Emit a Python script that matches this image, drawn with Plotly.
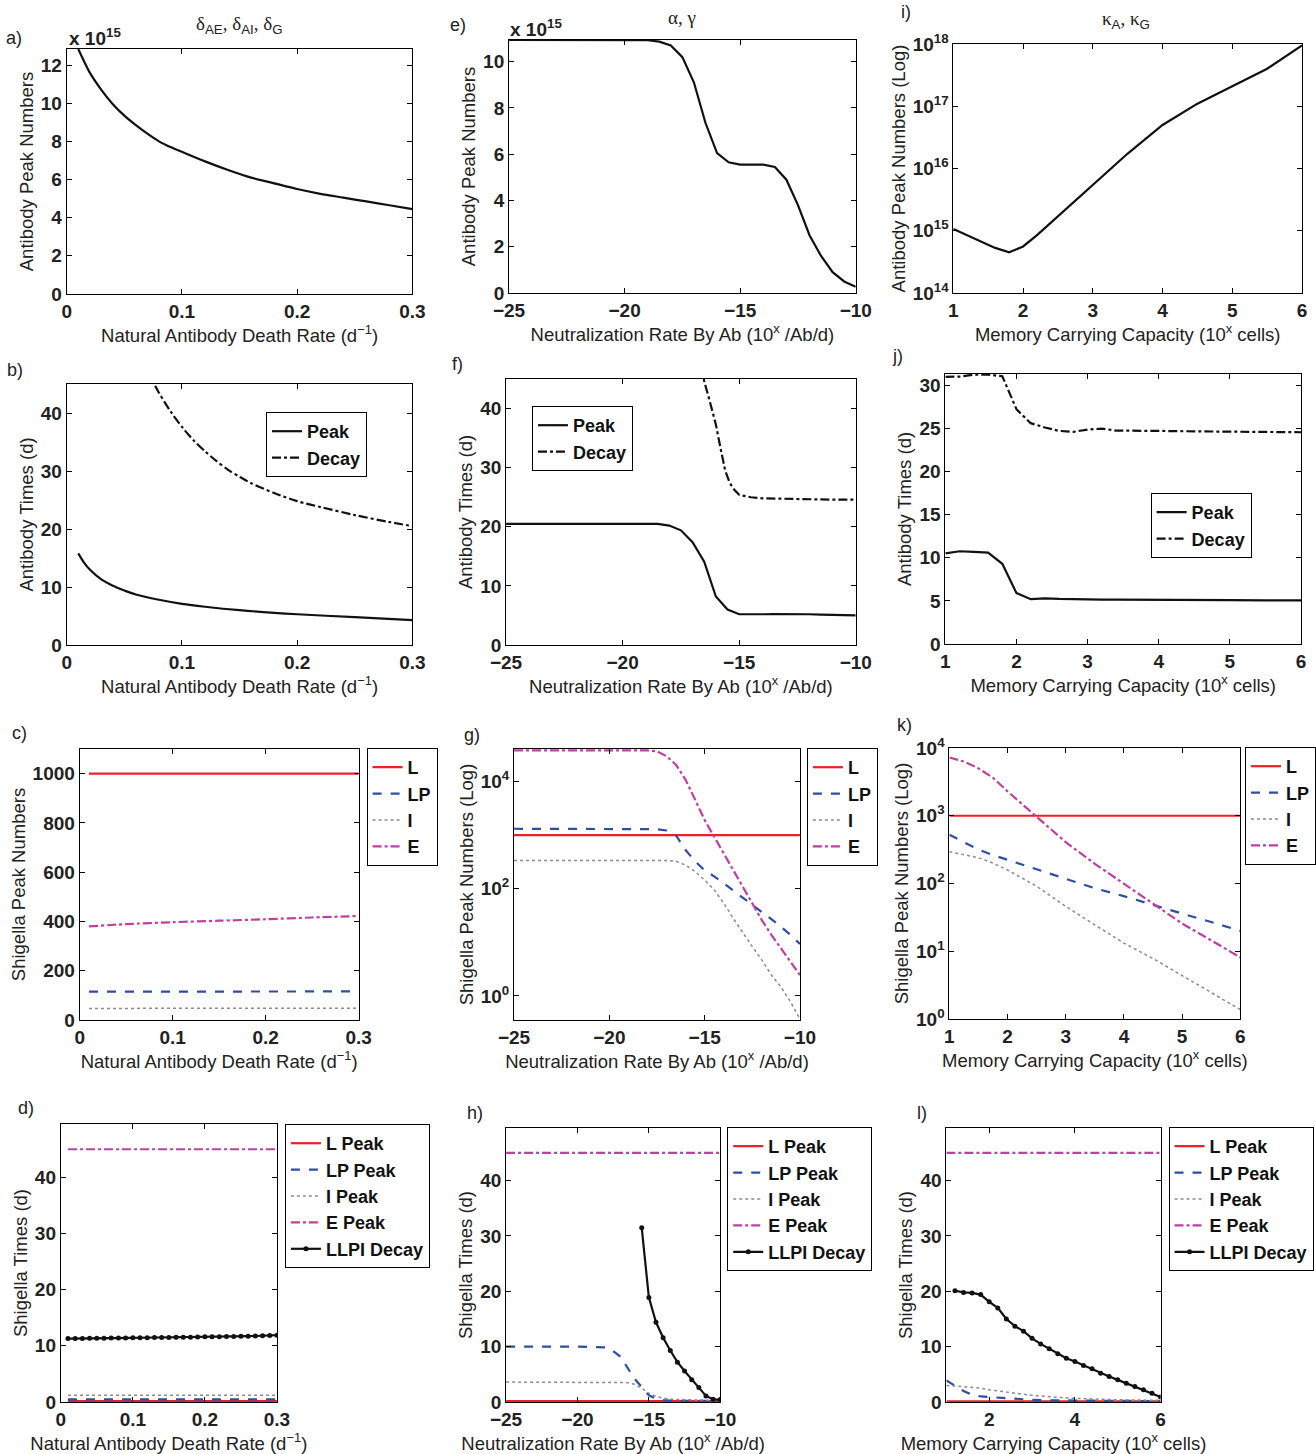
import plotly.graph_objects as go

W, H = 1316, 1454
FONT = "Liberation Sans, Arial, Helvetica, sans-serif"
SERIF = "Liberation Serif, Times New Roman, serif"
RED, BLUE, GRAY, MAG, BLACK = "#ee1f26", "#2c4ea8", "#8c8c8c", "#c13fa2", "#111111"

# ---------------- data ----------------
# Column 1: natural antibody death rate (d^-1)
a_x = [0.01, 0.015, 0.02, 0.03, 0.04, 0.05, 0.06, 0.07, 0.08, 0.09, 0.10, 0.12, 0.14, 0.16, 0.18, 0.20, 0.22, 0.24, 0.26, 0.28, 0.30]
a_peak = [12.84, 12.2, 11.6, 10.7, 9.95, 9.35, 8.85, 8.4, 8.0, 7.7, 7.45, 6.95, 6.5, 6.1, 5.8, 5.5, 5.25, 5.05, 4.85, 4.65, 4.45]

b_x = [0.01, 0.015, 0.02, 0.03, 0.04, 0.05, 0.06, 0.08, 0.10, 0.12, 0.15, 0.20, 0.25, 0.30]
b_peak = [15.8, 14.2, 13.0, 11.3, 10.2, 9.4, 8.7, 7.8, 7.1, 6.6, 6.0, 5.3, 4.8, 4.3]
b_decay_x = [0.07, 0.076, 0.08, 0.09, 0.10, 0.11, 0.12, 0.13, 0.14, 0.15, 0.16, 0.18, 0.20, 0.22, 0.25, 0.28, 0.30]
b_decay = [47.5, 45.0, 43.5, 40.3, 37.6, 35.3, 33.4, 31.7, 30.2, 29.0, 27.9, 26.2, 24.8, 23.8, 22.4, 21.2, 20.5]

c_x = [0.01, 0.05, 0.10, 0.15, 0.20, 0.25, 0.30]
c_L = [1000, 1000, 1000, 1000, 1000, 1000, 1000]
c_LP = [115, 115, 115, 116, 116, 116, 116]
c_I = [47, 47, 47, 47, 47, 48, 48]
c_E = [380, 389, 397, 403, 409, 416, 422]

d_x = [0.01, 0.02, 0.03, 0.04, 0.05, 0.06, 0.07, 0.08, 0.09, 0.10, 0.11, 0.12, 0.13, 0.14, 0.15,
       0.16, 0.17, 0.18, 0.19, 0.20, 0.21, 0.22, 0.23, 0.24, 0.25, 0.26, 0.27, 0.28, 0.29, 0.30]
d_L = [0.15] * 30
d_LP = [0.45] * 30
d_I = [1.2] * 30
d_E = [45] * 30
d_decay = [11.30, 11.30, 11.32, 11.34, 11.35, 11.36, 11.38, 11.40, 11.40, 11.42, 11.44, 11.45, 11.47, 11.48, 11.50,
           11.52, 11.53, 11.55, 11.57, 11.60, 11.62, 11.64, 11.66, 11.68, 11.70, 11.72, 11.75, 11.80, 11.85, 11.90]

# Column 2: neutralization rate by Ab (10^x /Ab/d)
ef_x = [-25, -24, -23, -22, -21, -20, -19, -18.5, -18, -17.5, -17, -16.5, -16, -15.5, -15, -14.5, -14,
        -13.5, -13, -12.5, -12, -11.5, -11, -10.5, -10]
e_peak = [10.94, 10.94, 10.94, 10.94, 10.94, 10.94, 10.93, 10.87, 10.7, 10.2, 9.1, 7.35, 6.05, 5.65, 5.55,
          5.55, 5.55, 5.45, 4.9, 3.8, 2.5, 1.6, 0.9, 0.5, 0.27]
f_peak = [20.5, 20.5, 20.5, 20.5, 20.5, 20.5, 20.5, 20.5, 20.2, 19.4, 17.4, 14.1, 8.2, 6.0, 5.2, 5.15,
          5.2, 5.22, 5.25, 5.22, 5.2, 5.15, 5.1, 5.05, 5.0]
f_decay_x = [-16.6, -16.5, -16.3, -16.0, -15.8, -15.6, -15.4, -15.2, -15.0, -14.5, -14.0, -13.0, -12.0, -11.0, -10.0]
f_decay = [47.0, 44.6, 41.8, 37.3, 33.3, 29.5, 27.4, 26.2, 25.4, 25.0, 24.8, 24.7, 24.65, 24.6, 24.6]

gh_x = [-25, -22, -20, -18, -17.5, -17, -16.5, -16, -15.5, -15, -14.5, -14, -13.5, -13, -12.5, -12,
        -11.5, -11, -10.5, -10]
g_L = [1000] * 20
g_LP = [1309, 1309, 1309, 1303, 1288, 1216, 980, 525, 324, 219, 170, 126, 93, 66, 50, 37, 27, 19.5, 13.8, 9.3]
g_I = [336, 336, 336, 336, 336, 336, 324, 275, 209, 145, 95, 54, 28, 14.8, 8.3, 4.7, 2.45, 1.48, 0.78, 0.37]
g_E = [38000, 38000, 38000, 38000, 36300, 29500, 20400, 10700, 4570, 1900, 930, 457, 224, 110, 54, 26, 13.8, 7.8, 4.4, 2.45]

h_L = [0.15] * 20
h_LP = [10, 10, 10, 9.85, 9.2, 8.2, 6.3, 4.2, 2.7, 1.2, 0.6, 0.35, 0.25, 0.2, 0.2, 0.2, 0.2, 0.2, 0.2, 0.2]
h_I = [3.6, 3.6, 3.6, 3.6, 3.6, 3.6, 3.5, 3.2, 2.5, 1.6, 1.0, 0.7, 0.5, 0.45, 0.4, 0.38, 0.35, 0.33, 0.3, 0.3]
h_E = [45] * 20
h_decay_x = [-15.5, -15, -14.5, -14, -13.5, -13, -12.5, -12, -11.5, -11, -10.5, -10]
h_decay = [31.5, 18.9, 14.4, 11.6, 9.3, 7.2, 5.6, 4.0, 2.6, 1.1, 0.5, 0.45]

# Column 3: memory carrying capacity (10^x cells)
i_x = [1, 1.2, 1.4, 1.6, 1.8, 2.0, 2.2, 2.5, 3.0, 3.5, 4.0, 4.5, 5.0, 5.5, 6.0]
i_peak = [1.07e15, 8.5e14, 6.8e14, 5.3e14, 4.5e14, 5.6e14, 8.5e14, 1.7e15, 5.6e15, 1.74e16, 5.0e16,
          1.1e17, 2.1e17, 4.0e17, 9.5e17]

j_x = [1, 1.2, 1.4, 1.6, 1.8, 2.0, 2.2, 2.4, 2.6, 2.8, 3.0, 3.2, 3.4, 3.6, 4.0, 4.5, 5.0, 5.5, 6.0]
j_peak = [10.5, 10.75, 10.67, 10.6, 9.3, 5.9, 5.2, 5.3, 5.22, 5.18, 5.15, 5.15, 5.15, 5.15, 5.12, 5.1, 5.08, 5.06, 5.05]
j_decay = [30.96, 31.0, 31.23, 31.23, 31.04, 27.2, 25.6, 25.1, 24.7, 24.6, 24.85, 24.97, 24.74, 24.7, 24.7,
           24.65, 24.6, 24.58, 24.55]

k_x = [1, 1.25, 1.5, 1.75, 2, 2.5, 3, 3.5, 4, 4.5, 5, 5.5, 6]
k_L = [1000] * 13
k_LP = [525, 407, 316, 263, 224, 162, 115, 85, 65, 49, 36, 27, 20]
k_I = [295, 269, 240, 200, 158, 91, 46, 24.5, 13.2, 7.8, 4.4, 2.5, 1.38]
k_E = [7240, 6310, 5010, 3630, 2290, 977, 407, 195, 100, 50, 25.7, 14.5, 8.1]

l_x = [1, 1.2, 1.4, 1.6, 1.8, 2, 2.5, 3, 3.5, 4, 5, 6]
l_L = [0.1] * 12
l_LP = [3.9, 3.0, 2.0, 1.3, 1.0, 0.9, 0.6, 0.4, 0.3, 0.25, 0.2, 0.15]
l_I = [3.0, 2.9, 2.8, 2.7, 2.5, 2.2, 1.7, 1.2, 0.9, 0.66, 0.4, 0.3]
l_E = [45] * 12
l_decay_x = [1.2, 1.4, 1.6, 1.8, 2.0, 2.2, 2.4, 2.6, 2.8, 3.0, 3.2, 3.4, 3.6, 3.8, 4.0, 4.2, 4.4, 4.6, 4.8,
             5.0, 5.2, 5.4, 5.6, 5.8, 6.0]
l_decay = [20.1, 19.8, 19.7, 19.4, 18.1, 17.0, 15.0, 13.7, 12.8, 11.5, 10.5, 9.6, 8.7, 7.9, 7.3, 6.6, 6.0,
           5.2, 4.6, 4.0, 3.4, 2.8, 2.2, 1.6, 0.9]

# ---------------- layout helpers ----------------
fig = go.Figure()
layout = {}

AX_FONT = dict(family=FONT, size=18.5, color="#222")
TICK_FONT = dict(family=FONT, size=19, color="#222", weight="bold")


def px_x(x):
    return x / W


def px_y(y):
    return 1 - y / H


def add_axes(n, box, xr, yr, xt, yt, xtitle, ytitle, ylog=False, ytext=None):
    l, t, r, b = box
    xs = "" if n == 1 else str(n)
    common = dict(showline=True, linecolor="black", linewidth=1, mirror="allticks", ticks="inside",
                  ticklen=5, tickcolor="black", showgrid=False, zeroline=False, tickfont=TICK_FONT,
                  automargin=False)
    layout["xaxis" + xs] = dict(domain=[px_x(l), px_x(r)], anchor="y" + xs, range=xr, tickvals=xt,
                                title=dict(text=xtitle, font=AX_FONT, standoff=2), **common)
    ya = dict(domain=[px_y(b), px_y(t)], anchor="x" + xs, range=yr, tickvals=yt,
              title=dict(text=ytitle, font=AX_FONT, standoff=2), **common)
    if ylog:
        ya["type"] = "log"
    if ytext is not None:
        ya["ticktext"] = ytext
    layout["yaxis" + xs] = ya
    return "x" + xs, "y" + xs


def line(ax, x, y, name, color, dash="solid", width=2.2, legend=None, markers=False, smooth=False):
    fig.add_trace(go.Scatter(
        x=x, y=y, xaxis=ax[0], yaxis=ax[1], name=name,
        mode="lines+markers" if markers else "lines",
        line=dict(color=color, width=width, dash=dash, shape="spline" if smooth else "linear",
                  smoothing=0.8 if smooth else None),
        marker=dict(size=5, color=color),
        showlegend=legend is not None, legend=legend or "legend"))


XT_A = "Natural Antibody Death Rate (d<sup>−1</sup>)"
XT_N = "Neutralization Rate By Ab (10<sup>x</sup> /Ab/d)"
XT_M = "Memory Carrying Capacity (10<sup>x</sup> cells)"
pow10 = lambda e: "10<sup>%d</sup>" % e

# a
ax = add_axes(1, (67, 49, 414, 294), [0, 0.3], [0, 12.84], [0, 0.1, 0.2, 0.3], [0, 2, 4, 6, 8, 10, 12],
              XT_A, "Antibody Peak Numbers")
line(ax, a_x, a_peak, "Peak", BLACK, smooth=True)
# b
ax = add_axes(2, (67, 384, 414, 645), [0, 0.3], [0, 45], [0, 0.1, 0.2, 0.3], [0, 10, 20, 30, 40],
              XT_A, "Antibody Times (d)")
line(ax, b_x, b_peak, "Peak", BLACK, legend="legend", smooth=True)
line(ax, b_decay_x, b_decay, "Decay", BLACK, "dashdot", legend="legend", smooth=True)
# c
ax = add_axes(3, (80, 749, 360, 1020), [0, 0.3], [0, 1100], [0, 0.1, 0.2, 0.3], [0, 200, 400, 600, 800, 1000],
              XT_A, "Shigella Peak Numbers")
line(ax, c_x, c_L, "L", RED, legend="legend2")
line(ax, c_x, c_LP, "LP", BLUE, "dash", legend="legend2")
line(ax, c_x, c_I, "I", GRAY, "dot", 1.5, legend="legend2")
line(ax, c_x, c_E, "E", MAG, "dashdot", legend="legend2", smooth=True)
# d
ax = add_axes(4, (61, 1124, 278, 1402), [0, 0.3], [0, 49.5], [0, 0.1, 0.2, 0.3], [0, 10, 20, 30, 40],
              XT_A, "Shigella Times (d)")
line(ax, d_x, d_L, "L Peak", RED, legend="legend3")
line(ax, d_x, d_LP, "LP Peak", BLUE, "dash", legend="legend3")
line(ax, d_x, d_I, "I Peak", GRAY, "dot", 1.5, legend="legend3")
line(ax, d_x, d_E, "E Peak", MAG, "dashdot", legend="legend3")
line(ax, d_x, d_decay, "LLPI Decay", BLACK, legend="legend3", markers=True)
# e
ax = add_axes(5, (511, 40, 859, 293), [-25, -10], [0, 10.94], [-25, -20, -15, -10], [0, 2, 4, 6, 8, 10],
              XT_N, "Antibody Peak Numbers")
line(ax, ef_x, e_peak, "Peak", BLACK)
# f
ax = add_axes(6, (508, 379, 859, 645), [-25, -10], [0, 45], [-25, -20, -15, -10], [0, 10, 20, 30, 40],
              XT_N, "Antibody Times (d)")
line(ax, ef_x, f_peak, "Peak", BLACK, legend="legend4")
line(ax, f_decay_x, f_decay, "Decay", BLACK, "dashdot", legend="legend4")
# g
ax = add_axes(7, (516, 749, 803, 1020), [-25, -10], [-0.448, 4.604], [-25, -20, -15, -10], [1, 100, 10000],
              XT_N, "Shigella Peak Numbers (Log)", ylog=True, ytext=[pow10(0), pow10(2), pow10(4)])
line(ax, gh_x, g_L, "L", RED, legend="legend5")
line(ax, gh_x, g_LP, "LP", BLUE, "dash", legend="legend5")
line(ax, gh_x, g_I, "I", GRAY, "dot", 1.5, legend="legend5")
line(ax, gh_x, g_E, "E", MAG, "dashdot", legend="legend5")
# h
ax = add_axes(8, (508, 1128, 723, 1402), [-25, -10], [0, 49.5], [-25, -20, -15, -10], [0, 10, 20, 30, 40],
              XT_N, "Shigella Times (d)")
line(ax, gh_x, h_L, "L Peak", RED, legend="legend6")
line(ax, gh_x, h_LP, "LP Peak", BLUE, "dash", legend="legend6")
line(ax, gh_x, h_I, "I Peak", GRAY, "dot", 1.5, legend="legend6")
line(ax, gh_x, h_E, "E Peak", MAG, "dashdot", legend="legend6")
line(ax, h_decay_x, h_decay, "LLPI Decay", BLACK, legend="legend6", markers=True)
# i
ax = add_axes(9, (957, 44, 1307, 293), [1, 6], [14, 18], [1, 2, 3, 4, 5, 6], [1e14, 1e15, 1e16, 1e17, 1e18],
              XT_M, "Antibody Peak Numbers (Log)", ylog=True, ytext=[pow10(e) for e in range(14, 19)])
line(ax, i_x, i_peak, "Peak", BLACK)
# j
ax = add_axes(10, (949, 374, 1306, 644), [1, 6], [0, 31.3], [1, 2, 3, 4, 5, 6], [0, 5, 10, 15, 20, 25, 30],
              XT_M, "Antibody Times (d)")
line(ax, j_x, j_peak, "Peak", BLACK, legend="legend7")
line(ax, j_x, j_decay, "Decay", BLACK, "dashdot", legend="legend7")
# k
ax = add_axes(11, (953, 748, 1245, 1019), [1, 6], [0, 4], [1, 2, 3, 4, 5, 6], [1, 10, 100, 1000, 10000],
              XT_M, "Shigella Peak Numbers (Log)", ylog=True, ytext=[pow10(e) for e in range(0, 5)])
line(ax, k_x, k_L, "L", RED, legend="legend8")
line(ax, k_x, k_LP, "LP", BLUE, "dash", legend="legend8")
line(ax, k_x, k_I, "I", GRAY, "dot", 1.5, legend="legend8")
line(ax, k_x, k_E, "E", MAG, "dashdot", legend="legend8")
# l
ax = add_axes(12, (950, 1128, 1165, 1402), [1, 6], [0, 49.5], [2, 4, 6], [0, 10, 20, 30, 40],
              XT_M, "Shigella Times (d)")
line(ax, l_x, l_L, "L Peak", RED, legend="legend9")
line(ax, l_x, l_LP, "LP Peak", BLUE, "dash", legend="legend9")
line(ax, l_x, l_I, "I Peak", GRAY, "dot", 1.5, legend="legend9")
line(ax, l_x, l_E, "E Peak", MAG, "dashdot", legend="legend9")
line(ax, l_decay_x, l_decay, "LLPI Decay", BLACK, legend="legend9", markers=True)

# legends
LEG_FONT = dict(family=FONT, size=18, color="#111", weight="bold")
leg_pos = {"legend": (267, 412), "legend2": (368, 748), "legend3": (286, 1124), "legend4": (534, 406),
           "legend5": (810, 748), "legend6": (730, 1127), "legend7": (1155, 493), "legend8": (1250, 747),
           "legend9": (1173, 1127)}
for k, (lx, ly) in leg_pos.items():
    layout[k] = dict(x=px_x(lx), y=px_y(ly), xanchor="left", yanchor="top", bordercolor="black",
                     borderwidth=1, bgcolor="white", font=LEG_FONT, itemwidth=30, tracegroupgap=0,
                     traceorder="normal")

# annotations: panel letters, column titles, exponent labels
ann = []


def text(x, y, s, size=18, family=FONT, xanchor="center", bold=False):
    ann.append(dict(x=px_x(x), y=px_y(y), xref="paper", yref="paper", text=s, showarrow=False,
                    xanchor=xanchor, yanchor="middle",
                    font=dict(family=family, size=size, color="#222", weight="bold" if bold else "normal")))


for s, x, y in [("a)", 14, 38), ("b)", 15, 370), ("c)", 20, 733), ("d)", 26, 1108),
                ("e)", 460, 25), ("f)", 459, 364), ("g)", 474, 735), ("h)", 477, 1113),
                ("i)", 909, 12), ("j)", 901, 356), ("k)", 908, 725), ("l)", 926, 1113)]:
    text(x, y, s)

SUB = '<sub><span style="font-family:Liberation Sans">%s</span></sub>'
text(240, 25, "δ" + SUB % "AE" + ", δ" + SUB % "AI" + ", δ" + SUB % "G", size=19, family=SERIF)
text(685, 18, "α, γ", size=19, family=SERIF)
text(1130, 20, "κ" + SUB % "A" + ", κ" + SUB % "G", size=19, family=SERIF)
text(67, 37, "x 10<sup>15</sup>", size=19, xanchor="left", bold=True)
text(510, 28, "x 10<sup>15</sup>", size=19, xanchor="left", bold=True)

fig.update_layout(width=W, height=H, margin=dict(l=0, r=0, t=0, b=0), paper_bgcolor="white",
                  plot_bgcolor="white", font=dict(family=FONT, color="#222"), annotations=ann, **layout)
fig.write_html("out.html", config={"displayModeBar": False},
               post_script="document.body.style.margin='0';document.body.style.overflow='hidden';")
